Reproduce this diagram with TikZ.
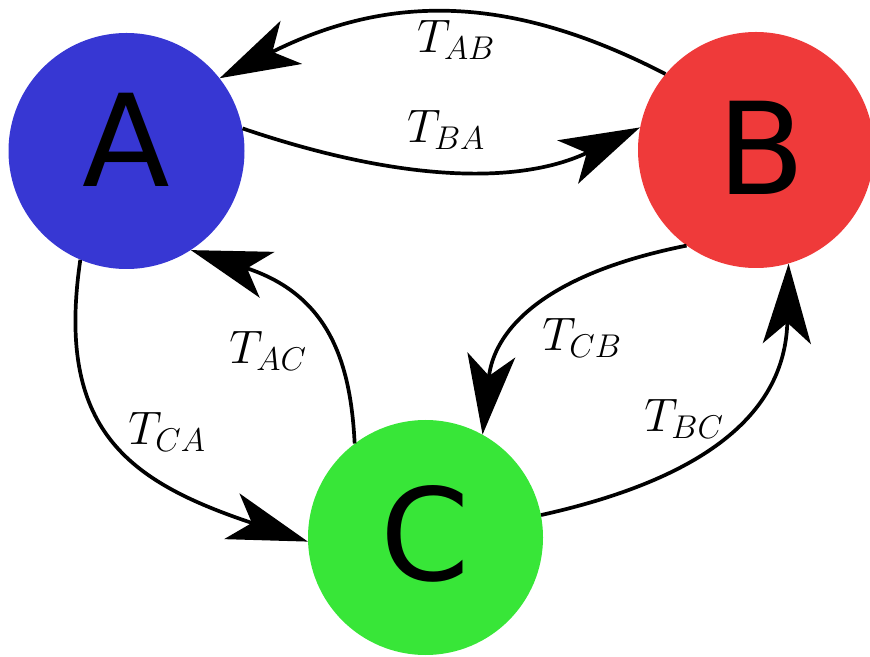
\RequirePackage{fix-cm}
\documentclass[tikz,border=0pt]{standalone}
\usepackage{fontspec}
\newfontfamily\lettersf{DejaVu Sans}
\usetikzlibrary{arrows.meta}
\definecolor{colA}{RGB}{55,55,211}
\definecolor{colB}{RGB}{239,58,58}
\definecolor{colC}{RGB}{56,230,56}
\begin{document}
\begin{tikzpicture}[x=1pt,y=1pt,
  state/.style={circle, minimum size=236pt, inner sep=0pt, draw=none},
  letter/.style={font=\lettersf\fontsize{128}{130}\selectfont, inner sep=0pt},
  trans/.style={line width=3.7pt, -{Stealth[length=80pt,width=48pt,inset=21pt]}},
  tlabel/.style={font=\fontsize{47}{50}\selectfont, inner sep=0pt}]
\useasboundingbox (0,0) rectangle (870,656);
\node[state, fill=colA, label={[letter, shift={(0,11)}]center:A}] (A) at (126.5,505) {};
\node[state, fill=colB, label={[letter, shift={(5,2)}]center:B}] (B) at (756,506) {};
\node[state, fill=colC, minimum size=235pt, label={[letter, shift={(0,4)}]center:C}] (C) at (425.5,118.5) {};
\draw[trans] (B.140) .. controls +(-155,80) and +(170,85) .. (A.38);
\draw[trans] (A.11) .. controls +(165,-56) and +(-117,-56) .. (B.169);
\draw[trans] (A.247) .. controls +(-25,-170) and +(-180,60) .. (C.182);
\draw[trans] (C.127) .. controls +(-4,80) and +(139,-45) .. (A.303);
\draw[trans] (B.234) .. controls +(-150,-30) and +(11,100) .. (C.61);
\draw[trans] (C.11) .. controls +(180,40) and +(-3,-140) .. (B.286);
\node[tlabel] (lab) at (456,616) {$T_{AB}$};
\node[tlabel] (lba) at (446,526) {$T_{BA}$};
\node[tlabel] (lac) at (268,305) {$T_{AC}$};
\node[tlabel] (lca) at (167,224) {$T_{CA}$};
\node[tlabel] (lcb) at (582,318) {$T_{CB}$};
\node[tlabel] (lbc) at (684,237) {$T_{BC}$};
\end{tikzpicture}
\end{document}
